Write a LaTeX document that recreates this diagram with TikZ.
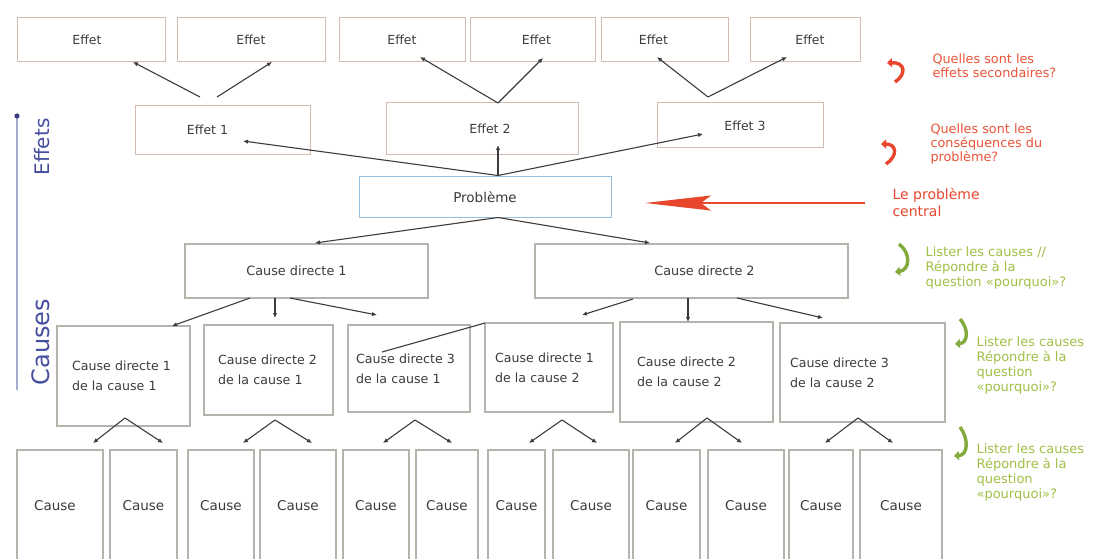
\documentclass[tikz,border=0pt]{standalone}
\usepackage{fontspec}
\setmainfont{DejaVu Sans}
\usetikzlibrary{arrows.meta,calc}
\definecolor{txtcol}{RGB}{60,60,60}
\definecolor{effcol}{RGB}{210,188,178}
\definecolor{caucol}{RGB}{180,180,172}
\definecolor{probcol}{RGB}{150,190,222}
\definecolor{linecol}{RGB}{60,60,60}
\definecolor{sidecol}{RGB}{70,78,160}
\definecolor{sidelinecol}{RGB}{165,172,205}
\definecolor{redtxt}{RGB}{234,84,56}
\definecolor{redarr}{RGB}{232,70,45}
\definecolor{greentxt}{RGB}{160,192,70}
\definecolor{greenicon}{RGB}{130,170,60}
\newcommand{\txshift}[2]{\hspace*{#1}#2\hspace*{-#1}}
\begin{document}
\begin{tikzpicture}[x=1pt,y=-1pt,
  basebox/.style={inner sep=0pt,outer sep=0pt,text=txtcol},
  effbox/.style={basebox,draw=effcol,line width=1pt,font=\fontsize{12.5}{14}\selectfont},
  probbox/.style={basebox,draw=probcol,line width=1pt,font=\fontsize{13.5}{15}\selectfont},
  cdbox/.style={basebox,draw=caucol,line width=1.2pt,font=\fontsize{12.8}{15}\selectfont},
  cbox/.style={basebox,draw=caucol,line width=1.3pt,align=left,font=\fontsize{12.6}{20}\selectfont},
  leafbox/.style={basebox,draw=caucol,line width=1.2pt,font=\fontsize{13.5}{15}\selectfont,minimum height=112pt},
  conn/.style={draw=linecol,line width=1.1pt,-{Latex[length=5pt,width=4.5pt]}},
  plain/.style={draw=linecol,line width=1.1pt},
  redicon/.style={draw=redarr,line width=3.4pt,-{Triangle[length=5pt,width=9pt]}},
  greenic/.style={draw=greenicon,line width=3.4pt,-{Triangle[length=5pt,width=9pt]}},
  rednote/.style={anchor=west,align=left,text=redtxt,font=\fontsize{12.8}{14}\selectfont},
  greennote/.style={anchor=west,align=left,text=greentxt,font=\fontsize{13}{15}\selectfont},
  sidelabel/.style={rotate=90,text=sidecol}
]
\useasboundingbox (0,0) rectangle (1100,559);
\fill[white] (0,0) rectangle (1100,559);

% top effects
\node[effbox,minimum width=148pt,minimum height=44pt] (e1t) at (91,40) {\txshift{-4pt}{Effet}};
\node[effbox,minimum width=148pt,minimum height=44pt] (e2t) at (251,40) {Effet};
\node[effbox,minimum width=126pt,minimum height=44pt] (e3t) at (402,40) {Effet};
\node[effbox,minimum width=125pt,minimum height=44pt] (e4t) at (532.5,40) {\txshift{4pt}{Effet}};
\node[effbox,minimum width=127pt,minimum height=44pt] (e5t) at (664.5,40) {\txshift{-11pt}{Effet}};
\node[effbox,minimum width=110pt,minimum height=44pt] (e6t) at (805,40) {\txshift{5pt}{Effet}};

% effects
\node[effbox,minimum width=175pt,minimum height=48pt] (E1) at (222.5,130) {\txshift{-15pt}{Effet 1}};
\node[effbox,minimum width=192pt,minimum height=51pt] (E2) at (482,128.5) {\txshift{8pt}{Effet 2}};
\node[effbox,minimum width=166pt,minimum height=45pt] (E3) at (740,125.5) {\txshift{5pt}{Effet 3}};

% problem
\node[probbox,minimum width=252pt,minimum height=41pt] (P) at (485,197) {Problème};

% direct causes
\node[cdbox,minimum width=243pt,minimum height=54pt] (CD1) at (306.5,271) {\txshift{-10pt}{Cause directe 1}};
\node[cdbox,minimum width=313pt,minimum height=54pt] (CD2) at (691.5,271) {\txshift{13pt}{Cause directe 2}};

% second-level causes
\node[cbox,minimum width=133pt,minimum height=100pt,text width=103pt] (c11) at (123.5,376) {\mbox{Cause directe 1}\\\mbox{de la cause 1}};
\node[cbox,minimum width=129pt,minimum height=90pt,text width=101pt] (c21) at (268.5,370) {\mbox{Cause directe 2}\\\mbox{de la cause 1}};
\node[cbox,minimum width=122pt,minimum height=87pt,text width=106pt] (c31) at (409,368.5) {\mbox{Cause directe 3}\\\mbox{de la cause 1}};
\node[cbox,minimum width=128pt,minimum height=89pt,text width=108pt] (c12) at (549,367.5) {\mbox{Cause directe 1}\\\mbox{de la cause 2}};
\node[cbox,minimum width=153pt,minimum height=100pt,text width=119pt] (c22) at (696.5,372) {\mbox{Cause directe 2}\\\mbox{de la cause 2}};
\node[cbox,minimum width=165pt,minimum height=99pt,text width=145pt] (c32) at (862.5,372.5) {\mbox{Cause directe 3}\\\mbox{de la cause 2}};

% leaf causes
\node[leafbox,minimum width=86pt] (b1) at (60,506) {\txshift{-5pt}{Cause}};
\node[leafbox,minimum width=67pt] (b2) at (143.5,506) {Cause};
\node[leafbox,minimum width=66pt] (b3) at (221,506) {Cause};
\node[leafbox,minimum width=76pt] (b4) at (298,506) {Cause};
\node[leafbox,minimum width=66pt] (b5) at (376,506) {Cause};
\node[leafbox,minimum width=62pt] (b6) at (447,506) {Cause};
\node[leafbox,minimum width=57pt] (b7) at (516.5,506) {Cause};
\node[leafbox,minimum width=76pt] (b8) at (591,506) {Cause};
\node[leafbox,minimum width=67pt] (b9) at (666.5,506) {Cause};
\node[leafbox,minimum width=76pt] (b10) at (746,506) {Cause};
\node[leafbox,minimum width=64pt] (b11) at (821,506) {Cause};
\node[leafbox,minimum width=82pt] (b12) at (901,506) {Cause};

% connectors: effects
\draw[conn] ($(E1.north)+(-22.5,-9)$) -- ($(e1t.south)+(42,0)$);
\draw[conn] ($(E1.north)+(-5.5,-9)$) -- ($(e2t.south)+(21,0)$);
\draw[conn] ($(E2.north)+(16,0)$) -- ($(e3t.south)+(18,-5)$);
\draw[conn] ($(E2.north)+(16,0)$) -- ($(e4t.south)+(10.5,-4)$);
\draw[conn] ($(E3.north)+(-32,-6)$) -- ($(e5t.south)+(-7.5,-5)$);
\draw[conn] ($(E3.north)+(-32,-6)$) -- ($(e6t.south)+(-18,-5)$);

\draw[conn] ($(P.north)+(13,-1)$) -- ($(E1.center)+(20.5,11)$);
\draw[conn] ($(P.north)+(13,-1)$) -- ($(E2.center)+(16,16.5)$);
\draw[conn] ($(P.north)+(13,-1)$) -- ($(E3.center)+(-37,8.5)$);

% connectors: causes
\draw[conn] ($(P.south)+(13,0)$) -- ($(CD1.north)+(8.5,-1)$);
\draw[conn] ($(P.south)+(13,0)$) -- ($(CD2.north)+(-41.5,-1)$);

\draw[conn] ($(CD1.south)+(-56.5,0)$) -- ($(c11.north)+(48.5,0)$);
\draw[conn] ($(CD1.south)+(-31.5,0)$) -- ($(c21.north)+(6.5,-7)$);
\draw[conn] ($(CD1.south)+(-16.5,0)$) -- ($(c31.north)+(-32,-10)$);
\draw[conn] ($(CD2.south)+(-58.5,1)$) -- ($(c12.north)+(33,-8)$);
\draw[conn] ($(CD2.south)+(-3.5,0)$) -- ($(c22.north)+(-8.5,0)$);
\draw[conn] ($(CD2.south)+(45.5,0)$) -- ($(c32.north)+(-39.5,-5)$);

\coordinate (stray) at ($(c31.center)+(-27,-16.5)$);
\draw[plain] (stray) -- (c12.north west);

% connectors: leaves
\draw[conn] ($(c11.south)+(1.5,-8)$) -- ($(b1.north)+(33,-7)$);
\draw[conn] ($(c11.south)+(1.5,-8)$) -- ($(b2.north)+(19.5,-7)$);
\draw[conn] ($(c21.south)+(6.5,5)$) -- ($(b3.north)+(22,-7)$);
\draw[conn] ($(c21.south)+(6.5,5)$) -- ($(b4.north)+(14,-7)$);
\draw[conn] ($(c31.south)+(6,8)$) -- ($(b5.north)+(7,-7)$);
\draw[conn] ($(c31.south)+(6,8)$) -- ($(b6.north)+(5,-7)$);
\draw[conn] ($(c12.south)+(13,8)$) -- ($(b7.north)+(12.5,-7)$);
\draw[conn] ($(c12.south)+(13,8)$) -- ($(b8.north)+(6,-7)$);
\draw[conn] ($(c22.south)+(10.5,-4)$) -- ($(b9.north)+(8.5,-7)$);
\draw[conn] ($(c22.south)+(10.5,-4)$) -- ($(b10.north)+(-4,-7)$);
\draw[conn] ($(c32.south)+(-4.5,-4)$) -- ($(b11.north)+(4,-7)$);
\draw[conn] ($(c32.south)+(-4.5,-4)$) -- ($(b12.north)+(-8,-7)$);

% side axis
\coordinate (axbot) at (17,390);
\coordinate (axtop) at (17,116);
\draw[draw=sidelinecol,line width=2.6pt] (axbot) -- (axtop);
\fill[sidecol!80!black] (axtop) circle (2.6pt);
\node[sidelabel,font=\fontsize{20}{24}\selectfont] (effl) at (42,147) {Effets};
\node[sidelabel,font=\fontsize{24}{28}\selectfont] (caul) at (41,342) {Causes};

% right annotations
\node[rednote] (q1) at (929,66) {Quelles sont les\\effets secondaires?};
\node[rednote] (q2) at (927,144) {Quelles sont les\\conséquences du\\problème?};
\node[rednote,font=\fontsize{14}{17}\selectfont,text=redarr] (lp) at (889,202) {Le problème\\central};
\node[greennote] (l1) at (922,268) {Lister les causes //\\Répondre à la\\question «pourquoi»?};
\node[greennote] (l2) at (973,365) {Lister les causes\\Répondre à la\\question\\«pourquoi»?};
\node[greennote] (l3) at (973,472) {Lister les causes\\Répondre à la\\question\\«pourquoi»?};

\draw[draw=redarr,line width=2.6pt,-{Stealth[length=66pt,width=15pt,inset=10pt]}] ($(lp.west)+(-24,1)$) -- ($(P.east)+(34,6)$);

% icons
\draw[redicon] (895,82) .. controls (907,74) and (905,62) .. (887,63);
\draw[redicon] (886,164) .. controls (898,156) and (897,144) .. (881,144);
\draw[greenic] (899,244) .. controls (911,253) and (910,270) .. (895,272);
\draw[greenic] (960,319) .. controls (969,329) and (968,343) .. (955,344);
\draw[greenic] (960,427) .. controls (969,439) and (968,455) .. (954,456);
\end{tikzpicture}
\end{document}
